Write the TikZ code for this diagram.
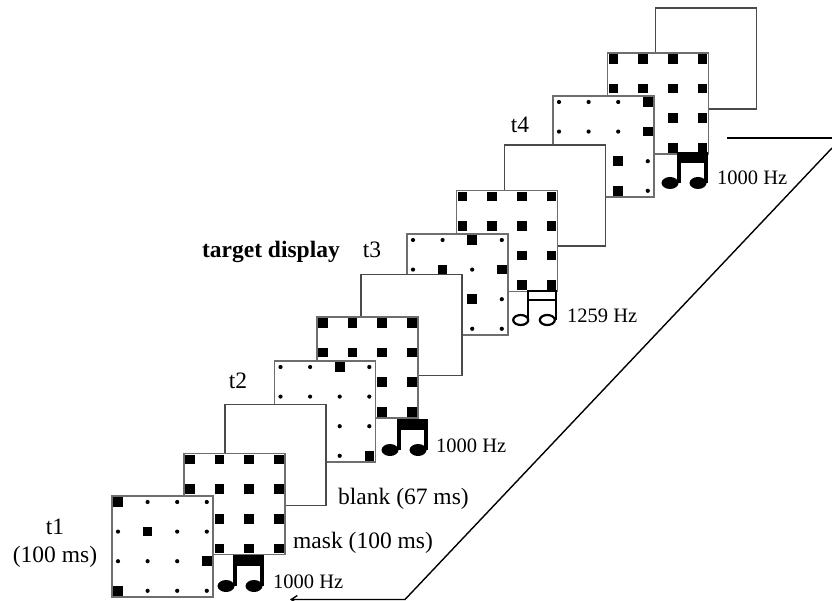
\documentclass[tikz,border=0pt]{standalone}
\usepackage{fontspec}
\setmainfont{Liberation Serif}
\usetikzlibrary{arrows.meta}
\definecolor{frameGray}{HTML}{6E6E6E}
\definecolor{lineGray}{HTML}{4A4A4A}
\tikzset{
  panel/.style={draw=frameGray, line width=1.5pt, fill=white, minimum width=101pt, minimum height=101pt, inner sep=0pt, outer sep=0pt},
  blankpanel/.style={draw=lineGray, line width=1.3pt, fill=white, minimum width=101pt, minimum height=101pt, inner sep=0pt, outer sep=0pt},
  lab/.style={font=\fontsize{23.5}{28}\selectfont, inner sep=0pt},
  hzlab/.style={font=\fontsize{20.5}{22}\selectfont, inner sep=0pt, anchor=base west},
}
% size 1 is a big square, size 0 a small dot, read row by row
\newcommand{\dotgrid}[2]{
  \foreach \r/\rowlist in {#2} {
    \foreach \c/\v in \rowlist {
      \ifnum\v=1
        \fill ([xshift=\c*29.6pt+6pt,yshift=-\r*29.6pt-6pt]#1.north west) +(-4.8pt,-4.8pt) rectangle +(4.8pt,4.8pt);
      \else
        \fill ([xshift=\c*29.6pt+6pt,yshift=-\r*29.6pt-6pt]#1.north west) circle (2.1pt);
      \fi
    }
  }
}
\newcommand{\fullgrid}[1]{\dotgrid{#1}{0/{0/1,1/1,2/1,3/1},1/{0/1,1/1,2/1,3/1},2/{0/1,1/1,2/1,3/1},3/{0/1,1/1,2/1,3/1}}}
% note with solid heads and a solid beam
\newcommand{\solidnote}[3]{
  \coordinate (#1) at (#2,#3);
  \fill (#1) +(0,0) rectangle +(30,11);
  \fill (#1) +(0,0) rectangle +(3.8,31);
  \fill (#1) +(26.7,0) rectangle +(30.5,31);
  \fill (#1) +(-7,31) ellipse (8.5pt and 6pt);
  \fill (#1) +(21,31) ellipse (8.5pt and 6pt);
}
\begin{document}
\begin{tikzpicture}[x=1pt,y=-1pt]
  \useasboundingbox (0,0) rectangle (832,601);

  % arrow of time
  \coordinate (timeend) at (727,138);
  \coordinate (timecorner) at (832,138);
  \coordinate (diagtop) at (832,148);
  \coordinate (diagbot) at (405,599.5);
  \coordinate (arrowtip) at (290,599.5);
  \draw[line width=1.4pt, black] (timeend) -- (timecorner);
  \draw[line width=1.4pt, black, -{Straight Barb[length=6pt,width=8pt]}] (diagtop) -- (diagbot) -- (arrowtip);

  % back to front
  \node[blankpanel] (blank4) at (706,58.5) {};
  \node[panel] (mask4) at (658,103.5) {};
  \fullgrid{mask4}
  \node[panel] (stim4) at (603.5,146.5) {};
  \dotgrid{stim4}{0/{0/0,1/0,2/0,3/1},1/{0/0,1/0,2/0,3/1},2/{0/0,1/0,2/1,3/0},3/{0/0,1/0,2/1,3/0}}
  \node[blankpanel] (blank3) at (555,195.5) {};
  \node[panel] (mask3) at (507,241) {};
  \fullgrid{mask3}
  \node[panel] (stim3) at (457.5,284.5) {};
  \dotgrid{stim3}{0/{0/0,1/0,2/1,3/0},1/{0/0,1/1,2/0,3/1},2/{0/0,1/0,2/1,3/0},3/{0/0,1/0,2/0,3/0}}
  \node[blankpanel] (blank2) at (411.5,325) {};
  \node[panel] (mask2) at (367.5,367.5) {};
  \fullgrid{mask2}
  \node[panel] (stim2) at (325,411.5) {};
  \dotgrid{stim2}{0/{0/0,1/0,2/1,3/0},1/{0/0,1/0,2/0,3/0},2/{0/0,1/0,2/0,3/0},3/{0/0,1/0,2/0,3/1}}
  \node[blankpanel] (blank1) at (275.5,455) {};
  \node[panel] (mask1) at (234.5,504) {};
  \fullgrid{mask1}
  \node[panel] (stim1) at (162.5,546.5) {};
  \dotgrid{stim1}{0/{0/1,1/0,2/0,3/0},1/{0/0,1/1,2/0,3/0},2/{0/0,1/0,2/0,3/1},3/{0/1,1/0,2/0,3/0}}

  % tones
  \solidnote{note1}{233}{555}
  \solidnote{note2}{397}{419}
  \solidnote{note4}{677}{152}
  \coordinate (note3) at (528,291);
  \draw[line width=2.6pt] (note3) rectangle +(28,9);
  \draw[line width=2.6pt] (note3) -- +(0,29);
  \draw[line width=2.6pt] ([xshift=28pt]note3) -- +(0,29);
  \draw[line width=2.2pt] (note3) +(-7.3,29) ellipse (7.5pt and 5pt);
  \draw[line width=2.2pt] (note3) +(19.3,29) ellipse (7.5pt and 5pt);

  \node[hzlab] (hz1) at (273,588) {1000 Hz};
  \node[hzlab] (hz2) at (436,452) {1000 Hz};
  \node[hzlab] (hz3) at (567,323) {1259 Hz};
  \node[hzlab] (hz4) at (717,185) {1000 Hz};

  \node[lab, anchor=base west] (masklab) at (293,548) {mask (100 ms)};
  \node[lab, anchor=base west] (blanklab) at (338,504) {blank (67 ms)};
  \node[lab, anchor=base] (t1lab) at (55,534) {t1};
  \node[lab, anchor=base] (durlab) at (55,562) {(100 ms)};
  \node[lab, anchor=base] (t2lab) at (238,388) {t2};
  \node[lab, anchor=base] (t3lab) at (372,258) {t3};
  \node[lab, anchor=base] (t4lab) at (520,133) {t4};
  \node[lab, font=\fontsize{23.5}{28}\selectfont\bfseries, anchor=base east] (targetlab) at (340,258) {target display};
\end{tikzpicture}
\end{document}
